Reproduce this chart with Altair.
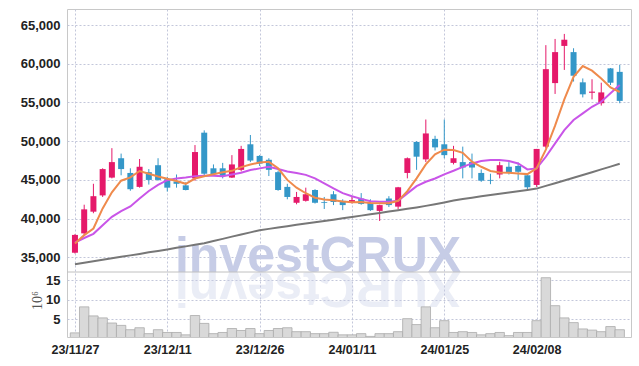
import json
import altair as alt
import pandas as pd

# ---------------- data ----------------
dates = [
    "23/11/27", "23/11/28", "23/11/29", "23/11/30", "23/12/01",
    "23/12/04", "23/12/05", "23/12/06", "23/12/07", "23/12/08",
    "23/12/11", "23/12/12", "23/12/13", "23/12/14", "23/12/15",
    "23/12/18", "23/12/19", "23/12/20", "23/12/21", "23/12/22",
    "23/12/26", "23/12/27", "23/12/28",
    "24/01/02", "24/01/03", "24/01/04", "24/01/05",
    "24/01/08", "24/01/09", "24/01/10", "24/01/11", "24/01/12",
    "24/01/15", "24/01/16", "24/01/17", "24/01/18", "24/01/19",
    "24/01/22", "24/01/23", "24/01/24", "24/01/25", "24/01/26",
    "24/01/29", "24/01/30", "24/01/31", "24/02/01", "24/02/02",
    "24/02/05", "24/02/06", "24/02/07", "24/02/08",
    "24/02/13", "24/02/14", "24/02/15", "24/02/16",
    "24/02/19", "24/02/20", "24/02/21", "24/02/22", "24/02/23",
]
tick_dates = ["23/11/27", "23/12/11", "23/12/26", "24/01/11", "24/01/25", "24/02/08"]

opens = [35600, 38100, 40900, 43000, 45300, 47800, 45900, 44100, 46000, 46900,
         45100, 44800, 44300, 45200, 51100, 46500, 46500, 45300, 46300, 49600,
         48100, 47600, 46000, 44100, 42050, 42300, 43700, 42150, 43150, 42300,
         42100, 42600, 42050, 41000, 42600, 41550, 45900, 49900, 47650, 50300,
         49600, 47200, 47300, 47300, 45900, 45000, 45700, 46700, 46800, 45600,
         44350, 49300, 57500, 62300, 61500, 57600, 56250, 54900, 59400, 58950]
highs = [38000, 41800, 44500, 46500, 49100, 48400, 46500, 47700, 46400, 47800,
         45400, 45700, 44700, 49500, 51400, 47000, 47200, 48200, 49400, 50800,
         48200, 47800, 46200, 44500, 43450, 44000, 43800, 42800, 43550, 42500,
         42900, 43300, 42500, 41800, 42900, 44100, 47900, 50000, 52800, 50700,
         52800, 49400, 49300, 48400, 46350, 45800, 47350, 47300, 47250, 45700,
         49000, 62400, 63200, 63850, 62000, 58100, 58000, 57550, 59450, 59850]
lows = [35500, 37900, 40700, 42800, 45200, 45600, 43600, 44000, 44400, 44900,
        43500, 44000, 43650, 44900, 45500, 45500, 45200, 45250, 46100, 47300,
        46800, 45500, 43600, 42500, 41850, 42200, 41950, 41250, 41750, 41100,
        41950, 41800, 41000, 39700, 41500, 41200, 45200, 46300, 47300, 48800,
        47800, 47000, 45200, 45200, 44750, 44450, 45200, 45700, 45000, 43700,
        44100, 49100, 56100, 59200, 57700, 55650, 55400, 54600, 57250, 54900]
closes = [37900, 41200, 42900, 46400, 47300, 46400, 43800, 46700, 45000, 45000,
          44000, 44500, 43700, 48600, 45800, 45750, 45500, 47000, 49000, 47500,
          47100, 46300, 43700, 42800, 42800, 43150, 42050, 42050, 42150, 41750,
          42400, 41900, 41100, 41750, 41750, 44050, 47800, 48000, 51000, 49200,
          48200, 47800, 46600, 46600, 44900, 44900, 46900, 45900, 46050, 44050,
          49000, 59300, 61500, 63100, 58450, 56050, 56400, 56300, 57550, 55200]
# volume in millions (10^6)
volumes = [1.6, 8.2, 5.9, 5.4, 4.1, 3.5, 2.4, 2.9, 1.4, 2.4,
           1.7, 1.7, 1.1, 6.0, 4.0, 1.4, 1.7, 2.7, 2.2, 2.7,
           1.4, 2.2, 2.7, 2.9, 1.9, 1.9, 1.4, 1.4, 1.75, 1.1,
           1.1, 1.4, 0.7, 1.4, 1.4, 1.9, 5.2, 3.7, 8.2, 2.9,
           4.7, 1.7, 1.9, 1.7, 1.1, 1.4, 1.7, 0.9, 1.7, 1.7,
           4.7, 15.6, 8.5, 5.4, 4.2, 2.6, 2.3, 1.9, 3.2, 2.4]
ma_short = [36800, 37870, 38730, 41320, 43400, 44900, 45320, 46150, 45800, 45450,
            45150, 44870, 44500, 45180, 45480, 45720, 46000, 46170, 46650, 47000,
            47250, 47330, 46500, 45000, 44000, 43280, 42700, 42480, 42370, 42200,
            42120, 42150, 42010, 41980, 41980, 42300, 43550, 45200, 47000, 48300,
            48900, 48850, 48500, 47350, 46700, 46150, 45970, 45920, 45840, 45750,
            46500, 48900, 52000, 55400, 58300, 59700, 59100, 58100, 56950, 56350]
ma_mid = [36900, 37500, 38040, 39160, 40240, 40970, 41570, 42600, 43570, 44370,
          44970, 45190, 45320, 45490, 45530, 45530, 45490, 45710, 45920, 46270,
          46490, 46700, 46400, 46100, 45900, 45650, 45200, 44550, 43900, 43300,
          42900, 42550, 42260, 42170, 42170, 42300, 43260, 44200, 44760, 45190,
          45710, 46180, 46690, 47130, 47430, 47560, 47560, 47430, 47130, 46360,
          46490, 47990, 49720, 51430, 52730, 53590, 54440, 55090, 56180, 57250]
ma_long = [34120, 34320, 34500, 34690, 34880, 35080, 35260, 35450, 35650, 35830,
           36020, 36230, 36420, 36630, 36830, 37110, 37390, 37680, 37950, 38230,
           38510, 38680, 38850, 39030, 39200, 39370, 39540, 39700, 39870, 40040,
           40220, 40390, 40570, 40740, 40920, 41090, 41270, 41450, 41650, 41870,
           42090, 42330, 42550, 42710, 42880, 43050, 43220, 43370, 43540, 43710,
           43880, 44230, 44570, 44920, 45270, 45630, 45990, 46360, 46720, 47080]

price_ticks = [35000, 40000, 45000, 50000, 55000, 60000, 65000]
volume_ticks = [5, 10, 15]
watermark = "investCRUX"

# ---------------- build ----------------
n = len(dates)
df = pd.DataFrame({
    "i": list(range(n)), "date": dates,
    "open": opens, "high": highs, "low": lows, "close": closes,
    "vol": volumes, "ma5": ma_short, "ma20": ma_mid, "ma60": ma_long,
})
df["dir"] = ["up" if c >= o else "down" for o, c in zip(opens, closes)]
tick_idx = [dates.index(d) for d in tick_dates]
label_expr = json.dumps(dates) + "[datum.value]"

W, H = 564, 328
RED, BLUE = "#e5196a", "#3497c8"
LABEL_FONT = "Liberation Sans"

x_enc = alt.X(
    "i:Q",
    scale=alt.Scale(domain=[-0.32, 59.68], nice=False, zero=False),
    axis=alt.Axis(values=tick_idx, labelExpr=label_expr, title=None, ticks=False,
                  domain=False, labelPadding=6, grid=True, labelFontSize=12.5,
                  labelFontWeight="bold"),
)
price_scale = alt.Scale(domain=[24721, 67066], nice=False, zero=False)
vol_scale = alt.Scale(domain=[0.55, 83.8], nice=False, zero=False)
price_axis = alt.Axis(values=price_ticks, labelExpr="format(datum.value, ',')", title=None,
                      ticks=False, orient="left", domain=False, labelPadding=7, grid=True,
                      labelFontSize=13, labelFontWeight="bold")

color_enc = alt.Color("dir:N", scale=alt.Scale(domain=["up", "down"], range=[RED, BLUE]),
                      legend=None)

base = alt.Chart(df)

wick = base.mark_rule(strokeWidth=1).encode(
    x=x_enc,
    y=alt.Y("low:Q", scale=price_scale, axis=price_axis),
    y2="high:Q",
    color=color_enc,
)
body = base.mark_bar(size=6).encode(
    x=x_enc, y=alt.Y("open:Q", scale=price_scale, axis=price_axis), y2="close:Q",
    color=color_enc
)
line_long = base.mark_line(color="#777777", strokeWidth=2).encode(
    x=x_enc, y=alt.Y("ma60:Q", scale=price_scale, axis=price_axis))
line_mid = base.mark_line(color="#c955e8", strokeWidth=2).encode(
    x=x_enc, y=alt.Y("ma20:Q", scale=price_scale, axis=price_axis))
line_short = base.mark_line(color="#ef8a4c", strokeWidth=2).encode(
    x=x_enc, y=alt.Y("ma5:Q", scale=price_scale, axis=price_axis))

price_layer = alt.layer(wick, body, line_long, line_mid, line_short)

vol_bars = base.mark_bar(size=9.4, fill="#d9d9d9", stroke="#ababab",
                         strokeWidth=0.8, clip=True).encode(
    x=x_enc,
    y=alt.Y("vol:Q", scale=vol_scale,
            axis=alt.Axis(values=volume_ticks, title="10⁶", orient="left", ticks=False,
                          domain=False, labelPadding=7, grid=True, labelFontSize=13,
                          labelFontWeight="bold",
                          titleX=-30, titleY=291, titleAngle=-90, titleAlign="center",
                          titleBaseline="middle", titleFont="Liberation Serif",
                          titleFontSize=14, titleFontWeight="normal", titleColor="#555")),
    y2=alt.datum(0),
)

wm_df = pd.DataFrame({"t": [watermark], "r": [watermark[::-1]]})
wm_main = alt.Chart(wm_df).mark_text(
    font="Liberation Sans", fontSize=50, fontWeight="bold", color="#c6cce6",
    align="center", baseline="alphabetic",
).encode(text="t:N", x=alt.value(251), y=alt.value(263))
wm_reflect = alt.Chart(wm_df).mark_text(
    font="Liberation Sans", fontSize=50, fontWeight="bold", color="#c6cce6", opacity=0.35,
    align="center", baseline="alphabetic", angle=180,
).encode(text="r:N", x=alt.value(251), y=alt.value(263))

separator = alt.Chart(wm_df).mark_rule(color="#c0c0c0", strokeWidth=1).encode(
    x=alt.value(0), x2=alt.value(W), y=alt.value(263))

chart = alt.layer(wm_main, wm_reflect, vol_bars, price_layer, separator).resolve_scale(
    y="independent"
).resolve_axis(
    y="independent"
).properties(
    width=W, height=H,
    autosize=alt.AutoSizeParams(type="none"),
    padding={"left": 67, "top": 9, "right": 8, "bottom": 29},
).configure_view(
    stroke="#c8c8c8", strokeWidth=1
).configure_axis(
    labelFont=LABEL_FONT, labelColor="#222222", gridColor="#c3c7da",
    gridDash=[2, 2], gridWidth=1,
)

chart.save("out.html", embed_options={"renderer": "svg", "actions": False})
